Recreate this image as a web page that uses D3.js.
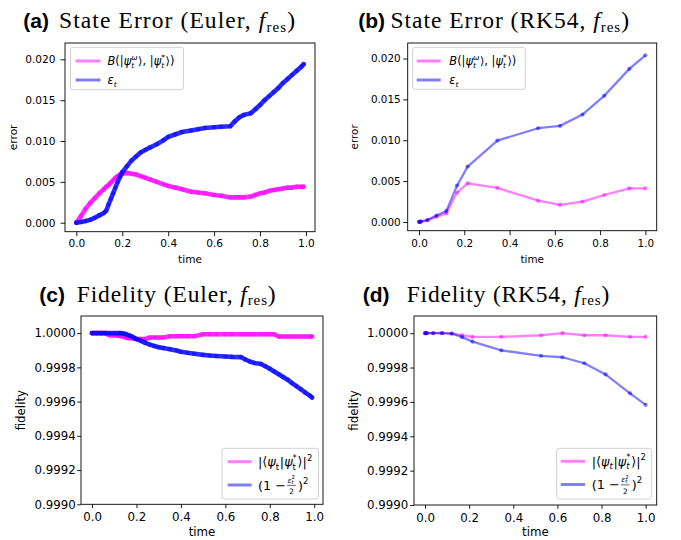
<!DOCTYPE html>
<html>
<head>
<meta charset="utf-8">
<script src="https://cdn.jsdelivr.net/npm/d3@7"></script>
<style>
  body { margin: 0; background: #fff; }
  svg { display: block; }
</style>
</head>
<body>
<svg id="fig" width="681" height="540"></svg>
<script>
// ---------------- data ----------------
// Euler integrator (dense time grid)
const eulerTime = [0, 0.02, 0.04, 0.06, 0.08, 0.10, 0.12, 0.13, 0.14, 0.15,
  0.16, 0.17, 0.18, 0.19, 0.20, 0.22, 0.24, 0.26, 0.28, 0.30,
  0.32, 0.35, 0.38, 0.40, 0.43, 0.46, 0.50, 0.53, 0.56, 0.60,
  0.63, 0.67, 0.69, 0.71, 0.73, 0.76, 0.78, 0.80, 0.82, 0.84,
  0.86, 0.88, 0.90, 0.92, 0.94, 0.96, 0.98, 0.99];
const eulerBures = [0, 0.0008, 0.0017, 0.0024, 0.0030, 0.0036, 0.0041, 0.0044, 0.0046, 0.0049,
  0.0052, 0.0055, 0.0057, 0.0059, 0.0060, 0.0061, 0.0060, 0.0059, 0.0057, 0.0055,
  0.0053, 0.0050, 0.0047, 0.0045, 0.0043, 0.0041, 0.0038, 0.0037, 0.0036, 0.0034,
  0.0033, 0.0031, 0.0031, 0.0031, 0.0031, 0.0032, 0.0034, 0.0036, 0.0037, 0.0039,
  0.0040, 0.0041, 0.0042, 0.0043, 0.0043, 0.0044, 0.0044, 0.0044];
const eulerEps = [0, 0.0001, 0.0002, 0.00035, 0.0006, 0.0009, 0.0012, 0.00147, 0.0022, 0.0029,
  0.0036, 0.0043, 0.0050, 0.0056, 0.0062, 0.0069, 0.0076, 0.0081, 0.0086, 0.0089,
  0.0092, 0.0096, 0.0101, 0.0105, 0.0108, 0.0111, 0.0113, 0.01145, 0.0116, 0.01168,
  0.01175, 0.0118, 0.0124, 0.0129, 0.0132, 0.0134, 0.0139, 0.0144, 0.0150, 0.0155,
  0.0160, 0.0165, 0.0171, 0.0176, 0.0181, 0.0186, 0.0191, 0.0194];
const eulerFidExact = [1, 1, 1, 1, 0.999987, 0.999987, 0.999985, 0.999982, 0.99998, 0.999975,
  0.999972, 0.99997, 0.99997, 0.999968, 0.999966, 0.999966, 0.999966, 0.999974, 0.999974, 0.999974,
  0.999974, 0.999982, 0.999982, 0.999982, 0.999982, 0.999982, 0.999993, 0.999993, 0.999993, 0.999993,
  0.999993, 0.999993, 0.999993, 0.999993, 0.999993, 0.999993, 0.999993, 0.999993, 0.999993, 0.99998,
  0.99998, 0.99998, 0.99998, 0.99998, 0.99998, 0.99998, 0.99998, 0.99998];
const eulerFidBound = [1, 1, 1, 1, 1, 1, 1, 1, 0.999998, 0.999995,
  0.99999, 0.999985, 0.99998, 0.999972, 0.999965, 0.999955, 0.999943, 0.999933, 0.999925, 0.999918,
  0.999913, 0.999906, 0.999898, 0.999891, 0.999885, 0.99988, 0.999873, 0.999869, 0.999866, 0.999863,
  0.999861, 0.99986, 0.999846, 0.999834, 0.999826, 0.99982, 0.999806, 0.999792, 0.999776, 0.99976,
  0.999744, 0.999728, 0.999708, 0.99969, 0.999672, 0.999652, 0.999635, 0.999624];

// RK54 integrator (adaptive steps)
const rkTime = [0, 0.003, 0.008, 0.037, 0.077, 0.121, 0.168, 0.215, 0.346, 0.526, 0.623, 0.722, 0.818, 0.929, 1.0];
const rkBures = [0, 0.00001, 0.00004, 0.0002, 0.00065, 0.00106, 0.0036, 0.00473, 0.00416, 0.0026, 0.00208, 0.0025, 0.0033, 0.0041, 0.00412];
const rkEps = [0, 0.00002, 0.00005, 0.00024, 0.00078, 0.00135, 0.00445, 0.00678, 0.00996, 0.01147, 0.01176, 0.01314, 0.01543, 0.01873, 0.0204];
const rkFidExact = [1, 1, 1, 1, 1, 0.999998, 0.999988, 0.999979, 0.999979, 0.999988, 1.0, 0.999988, 0.999988, 0.999979, 0.999979];
const rkFidBound = [1, 1, 1, 1, 1, 0.999998, 0.999977, 0.999951, 0.9999, 0.999868, 0.99986, 0.999825, 0.99976, 0.99965, 0.999583];

// ticks
const timeTicks = [0, 0.2, 0.4, 0.6, 0.8, 1.0];
const errorTicks = [0, 0.005, 0.010, 0.015, 0.020];
const fidelityTicks = [0.9990, 0.9992, 0.9994, 0.9996, 0.9998, 1.0000];

// ---------------- drawing ----------------
const svg = d3.select('#fig');
const MAGENTA = '#ff00ff';
const BLUE = '#0000ff';
const SANS = "'DejaVu Sans', sans-serif";

// place a run of math-like pieces (with stacked sub/superscripts and a small fraction)
function mathLabel(g, x, y, parts, fs) {
  let cx = x;
  const put = (s, px, py, size, it) => {
    const t = g.append('text').attr('x', px).attr('y', py)
      .attr('font-family', SANS).attr('font-size', size)
      .attr('font-style', it ? 'italic' : 'normal').attr('fill', '#000').text(s);
    return t.node().getComputedTextLength();
  };
  parts.forEach(p => {
    if (p.frac) {
      const ns = fs * 0.58, ss = fs * 0.42;
      const nx = cx + fs * 0.12;
      const wE = put('ε', nx, y - fs * 0.55, ns, true);
      const w2 = put('2', nx + wE, y - fs * 0.80, ss, false);
      const wt = put('t', nx + wE, y - fs * 0.44, ss, true);
      const numW = wE + Math.max(w2, wt);
      const w = numW + fs * 0.06;
      g.append('text').attr('font-family', SANS).attr('font-size', ns)
        .attr('text-anchor', 'middle').attr('x', cx + fs * 0.12 + w / 2).attr('y', y + fs * 0.36).text('2');
      g.append('line').attr('x1', cx + fs * 0.1).attr('x2', cx + fs * 0.14 + w)
        .attr('y1', y - fs * 0.33).attr('y2', y - fs * 0.33)
        .attr('stroke', '#000').attr('stroke-width', 0.6);
      cx += w + fs * 0.3;
    } else if (p.sup !== undefined || p.sub !== undefined) {
      let w1 = 0, w2 = 0;
      if (p.sup !== undefined) w1 = put(p.sup, cx, y - fs * 0.44, fs * 0.66, p.supIt);
      if (p.sub !== undefined) w2 = put(p.sub, cx, y + fs * 0.28, fs * 0.66, p.subIt);
      cx += Math.max(w1, w2) + fs * 0.06;
    } else {
      cx += put(p.s, cx, y, fs, p.it);
    }
  });
}

const buresLabel = [{s: 'B', it: true}, {s: '(|'}, {s: 'ψ', it: true}, {sup: 'ω', supIt: true, sub: 't', subIt: true},
  {s: '⟩, |'}, {s: 'ψ', it: true}, {sup: '*', sub: 't', subIt: true}, {s: '⟩)'}];
const epsLabel = [{s: 'ε', it: true}, {sub: 't', subIt: true}];
const overlapLabelC = [{s: '|⟨'}, {s: 'ψ', it: true}, {sub: 't'}, {s: '|'}, {s: 'ψ', it: true},
  {sup: '*', sub: 't'}, {s: '⟩|'}, {sup: '2'}];
const overlapLabelD = [{s: '|⟨'}, {s: 'ψ', it: true}, {sub: 't', subIt: true}, {s: '|'}, {s: 'ψ', it: true},
  {sup: '*', sub: 't', subIt: true}, {s: '⟩|'}, {sup: '2'}];
const boundLabel = [{s: '(1 − '}, {frac: true}, {s: ')'}, {sup: '2'}];

function panel(c) {
  const g = svg.append('g');
  const x = d3.scaleLinear().domain(c.xdom).range([c.l, c.r]);
  const y = d3.scaleLinear().domain(c.ydom).range([c.b, c.t]);

  // series
  c.series.forEach(s => {
    const pts = s.t.map((t, i) => [t, s.v[i]]);
    const line = d3.line().x(d => x(d[0])).y(d => y(d[1]));
    if (c.dense) {
      g.append('path').attr('d', line(pts)).attr('fill', 'none')
        .attr('stroke', s.color).attr('stroke-opacity', 0.82)
        .attr('stroke-width', 4.6).attr('stroke-linejoin', 'round').attr('stroke-linecap', 'round');
      g.append('g').selectAll('circle').data(pts).join('circle')
        .attr('cx', d => x(d[0])).attr('cy', d => y(d[1])).attr('r', 2.4)
        .attr('fill', s.color).attr('fill-opacity', 0.45);
    } else {
      g.append('path').attr('d', line(pts)).attr('fill', 'none')
        .attr('stroke', s.color).attr('stroke-opacity', 0.5)
        .attr('stroke-width', 2.3).attr('stroke-linejoin', 'round');
      g.append('g').selectAll('circle').data(pts).join('circle')
        .attr('cx', d => x(d[0])).attr('cy', d => y(d[1])).attr('r', 2.1)
        .attr('fill', s.color).attr('fill-opacity', 0.5);
    }
  });

  // axes
  const xa = d3.axisBottom(x).tickValues(timeTicks).tickFormat(d3.format('.1f'))
    .tickSize(c.tick).tickPadding(c.xpad);
  const ya = d3.axisLeft(y).tickValues(c.yticks).tickFormat(d3.format(c.yfmt))
    .tickSize(c.tick).tickPadding(c.ypad);
  const gx = g.append('g').attr('transform', `translate(0,${c.b})`).call(xa);
  const gy = g.append('g').attr('transform', `translate(${c.l},0)`).call(ya);
  [gx, gy].forEach(a => {
    a.select('.domain').remove();
    a.selectAll('line').attr('stroke', '#000').attr('stroke-width', 0.9);
    a.selectAll('text').attr('font-family', SANS).attr('font-size', c.fs).attr('fill', '#000');
  });

  // frame
  g.append('rect').attr('x', c.l).attr('y', c.t).attr('width', c.r - c.l).attr('height', c.b - c.t)
    .attr('fill', 'none').attr('stroke', '#000').attr('stroke-width', 0.9);

  // axis labels
  g.append('text').attr('x', (c.l + c.r) / 2).attr('y', c.xlabY).attr('text-anchor', 'middle')
    .attr('font-family', SANS).attr('font-size', c.fs).text('time');
  g.append('text').attr('transform', `translate(${c.ylabX},${(c.t + c.b) / 2}) rotate(-90)`)
    .attr('text-anchor', 'middle').attr('font-family', SANS).attr('font-size', c.fs).text(c.ylabel);

  // legend
  const L = c.legend;
  g.append('rect').attr('x', L.x).attr('y', L.y).attr('width', L.w).attr('height', L.h)
    .attr('rx', 2.5).attr('fill', '#fff').attr('fill-opacity', 0.8)
    .attr('stroke', '#cccccc').attr('stroke-width', 0.9);
  L.rows.forEach(row => {
    g.append('line').attr('x1', L.lx0).attr('x2', L.lx1).attr('y1', row.y).attr('y2', row.y)
      .attr('stroke', row.color).attr('stroke-opacity', 0.5).attr('stroke-width', 3);
    mathLabel(g.append('g'), L.tx, row.y + L.fs * 0.36, row.parts, L.fs);
  });

  // title: bold panel letter, then serif caption
  svg.append('text').attr('x', c.title.lx).attr('y', c.title.base)
    .attr('font-family', "'Liberation Sans', Arial, sans-serif").attr('font-weight', 'bold')
    .attr('font-size', 21).attr('fill', '#000').text(c.title.label);
  const tt = svg.append('text').attr('x', c.title.sx).attr('y', c.title.base)
    .attr('font-family', "'Liberation Serif', serif").attr('font-size', 23.5).attr('fill', '#000');
  tt.append('tspan').text(c.title.text + ', ');
  tt.append('tspan').attr('font-style', 'italic').text('f');
  tt.append('tspan').attr('font-size', 15).attr('dy', 3.5).text('res');
  tt.append('tspan').attr('dy', -3.5).text(')');
  tt.attr('textLength', c.title.w).attr('lengthAdjust', 'spacing');
}

// (a) State error, Euler
panel({
  l: 65, r: 315, t: 43, b: 231.7, xdom: [-0.0495, 1.0395], ydom: [-0.0011, 0.022],
  yticks: errorTicks, yfmt: '.3f', ylabel: 'error', fs: 10.6, tick: 4.5, xpad: 3.6, ypad: 5,
  xlabY: 263.3, ylabX: 17, dense: true,
  series: [
    {t: eulerTime, v: eulerBures, color: MAGENTA},
    {t: eulerTime, v: eulerEps, color: BLUE}
  ],
  legend: {x: 70.5, y: 47.3, w: 113, h: 42.4, lx0: 75.5, lx1: 100.5, tx: 107.5, fs: 11.4,
    rows: [{y: 61, color: MAGENTA, parts: buresLabel}, {y: 80, color: BLUE, parts: epsLabel}]},
  title: {label: '(a)', lx: 23.3, sx: 59, base: 28.3, w: 236, text: 'State Error (Euler'}
});

// (b) State error, RK54
panel({
  l: 407.7, r: 656.7, t: 43, b: 230.7, xdom: [-0.05, 1.05], ydom: [-0.00107, 0.0219],
  yticks: errorTicks, yfmt: '.3f', ylabel: 'error', fs: 10.4, tick: 4.5, xpad: 4.1, ypad: 2.5,
  xlabY: 263, ylabX: 358, dense: false,
  series: [
    {t: rkTime, v: rkBures, color: MAGENTA},
    {t: rkTime, v: rkEps, color: BLUE}
  ],
  legend: {x: 412.7, y: 47.3, w: 112.6, h: 42, lx0: 416.7, lx1: 440.7, tx: 449.3, fs: 11.4,
    rows: [{y: 61, color: MAGENTA, parts: buresLabel}, {y: 80, color: BLUE, parts: epsLabel}]},
  title: {label: '(b)', lx: 358.3, sx: 390.5, base: 28.3, w: 238.5, text: 'State Error (RK54'}
});

// (c) Fidelity, Euler
panel({
  l: 81, r: 323, t: 316, b: 504.3, xdom: [-0.0495, 1.0395], ydom: [0.999, 1.0001],
  yticks: fidelityTicks, yfmt: '.4f', ylabel: 'fidelity', fs: 11.8, tick: 3.8, xpad: 5, ypad: 1.5,
  xlabY: 536, ylabX: 24.8, dense: true,
  series: [
    {t: eulerTime, v: eulerFidExact, color: MAGENTA},
    {t: eulerTime, v: eulerFidBound, color: BLUE}
  ],
  legend: {x: 222, y: 448.3, w: 96.5, h: 50.7, lx0: 227.7, lx1: 251.7, tx: 258, fs: 12.8,
    rows: [{y: 461.7, color: MAGENTA, parts: overlapLabelC}, {y: 485, color: BLUE, parts: boundLabel}]},
  title: {label: '(c)', lx: 39.3, sx: 76.7, base: 301.7, w: 199, text: 'Fidelity (Euler'}
});

// (d) Fidelity, RK54
panel({
  l: 414, r: 656.7, t: 316, b: 505, xdom: [-0.05, 1.05], ydom: [0.999, 1.0001],
  yticks: fidelityTicks, yfmt: '.4f', ylabel: 'fidelity', fs: 11.8, tick: 3.8, xpad: 5, ypad: 2,
  xlabY: 536.3, ylabX: 358, dense: false,
  series: [
    {t: rkTime, v: rkFidExact, color: MAGENTA},
    {t: rkTime, v: rkFidBound, color: BLUE}
  ],
  legend: {x: 556.7, y: 448.3, w: 95, h: 50.7, lx0: 560.7, lx1: 585, tx: 591.7, fs: 12.8,
    rows: [{y: 461.3, color: MAGENTA, parts: overlapLabelD}, {y: 484.5, color: BLUE, parts: boundLabel}]},
  title: {label: '(d)', lx: 362.7, sx: 406.7, base: 301.7, w: 202.6, text: 'Fidelity (RK54'}
});
</script>
</body>
</html>
